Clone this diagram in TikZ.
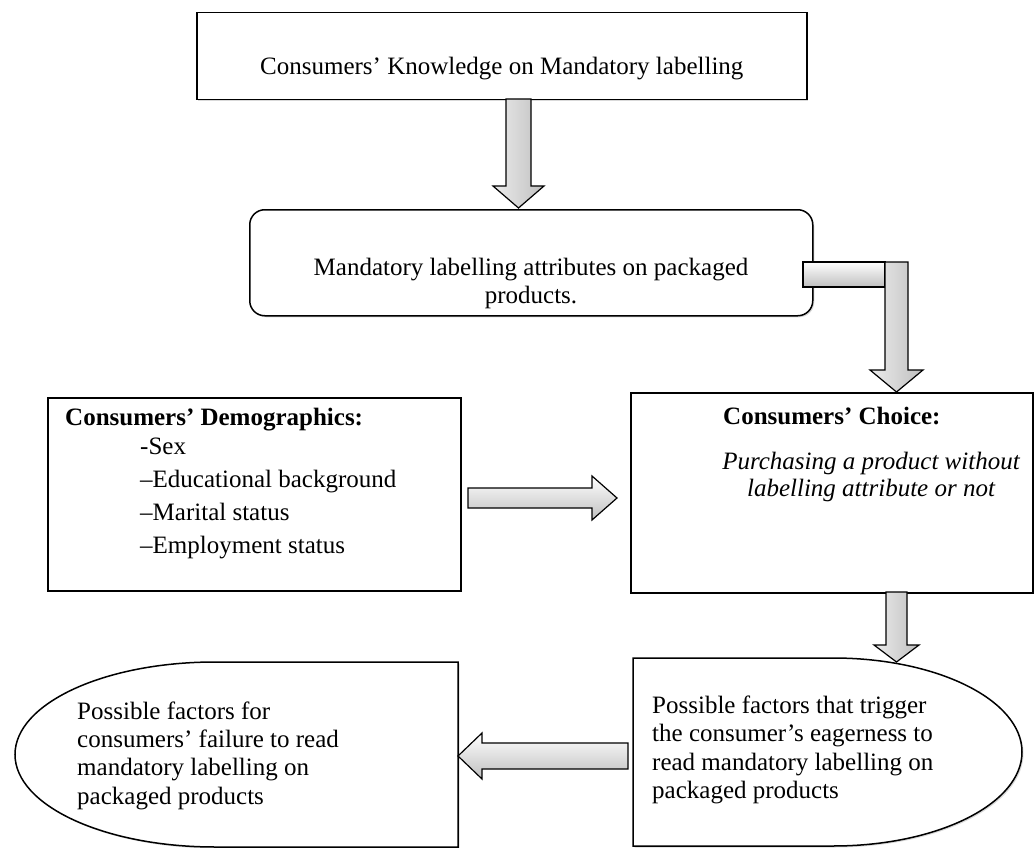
\documentclass[tikz,border=0pt]{standalone}
\usepackage{fontspec}
\setmainfont{Liberation Serif}
\usetikzlibrary{calc,shadows}
\newcommand\vblock[6]{\path[#1] ($(#2)+(-#4,0)$) -- ($(#2)+(#4,0)$) -- ($(#3)+(#4,-#6)$) -- ($(#3)+(#5,-#6)$) -- (#3) -- ($(#3)+(-#5,-#6)$) -- ($(#3)+(-#4,-#6)$) -- cycle;}
\newcommand\hblock[6]{\path[#1] ($(#2)+(0,-#4)$) -- ($(#3)+(#6,-#4)$) -- ($(#3)+(#6,-#5)$) -- (#3) -- ($(#3)+(#6,#5)$) -- ($(#3)+(#6,#4)$) -- ($(#2)+(0,#4)$) -- cycle;}
\begin{document}
\begin{tikzpicture}[x=1pt,y=-1pt,
 box/.style={draw=black,line width=1.5pt,fill=white,drop shadow={shadow xshift=1.5pt,shadow yshift=-1.5pt,opacity=0.3,fill=gray}},
 txt/.style={inner sep=0pt,font=\fontsize{25}{28.3}\selectfont},
 txtb/.style={inner sep=0pt,font=\fontsize{25}{28.3}\selectfont\bfseries},
 txti/.style={inner sep=0pt,font=\fontsize{25}{27}\selectfont\itshape},
 varrow/.style={draw=black,line width=1.2pt,left color=gray!15,middle color=white,right color=gray!50},
 harrow/.style={draw=black,line width=1.2pt,top color=white,middle color=gray!10,bottom color=gray!50}]
\useasboundingbox (0,0) rectangle (1034,848);
% boxes
\node[box,minimum width=610pt,minimum height=87pt,anchor=north west,inner sep=0pt] (know) at (196,12) {};
\node[box,rounded corners=15pt,minimum width=563pt,minimum height=106pt,anchor=north west,inner sep=0pt] (attr) at (249,209) {};
\node[box,minimum width=413pt,minimum height=193pt,anchor=north west,inner sep=0pt] (demo) at (47,397) {};
\node[box,minimum width=402pt,minimum height=200pt,anchor=north west,inner sep=0pt] (choice) at (630,392) {};
\path[box] (458,662) -- (215,662) .. controls (104.5,662) and (15,703.4) .. (15,754.5) .. controls (15,805.6) and (104.5,847) .. (215,847) -- (458,847) -- cycle;
\path[box] (633,658) -- (833,658) .. controls (937.4,658) and (1022,700.1) .. (1022,752) .. controls (1022,803.9) and (937.4,846) .. (833,846) -- (633,846) -- cycle;
% texts
\node[txt,anchor=base west] (tknow) at (260,75) {Consumers’ Knowledge on Mandatory labelling};
\node[txt,align=center] (tattr) at (531,283.5) {Mandatory labelling attributes on packaged\\products.};
\node[txtb,anchor=base west] (tdemo) at (65,425) {Consumers’ Demographics:};
\node[txt,anchor=base west] (d1) at (140,454) {-Sex};
\node[txt,anchor=base west] (d2) at (140,487) {–Educational background};
\node[txt,anchor=base west] (d3) at (140,520) {–Marital status};
\node[txt,anchor=base west] (d4) at (140,553) {–Employment status};
\node[txtb,anchor=base west] (tchoice) at (723,424) {Consumers’ Choice:};
\node[txti,align=center] (tpurch) at (871,476.5) {Purchasing a product without\\labelling attribute or not};
\node[txt,align=left,anchor=west] (tfail) at (77,755.5) {Possible factors for\\consumers’ failure to read\\mandatory labelling on\\packaged products};
\node[txt,align=left,anchor=west] (ttrig) at (652,750) {Possible factors that trigger\\the consumer’s eagerness to\\read mandatory labelling on\\packaged products};
% arrows
\coordinate (a1s) at (518.5,99);
\coordinate (a1t) at (518.5,208);
\vblock{varrow}{a1s}{a1t}{12.5}{25.5}{22}
\coordinate (e0) at (803,262);
\coordinate (e1) at (885,287);
\path[harrow] (e0) rectangle (e1);
\coordinate (e2) at (896.5,262);
\coordinate (e3) at (896.5,392);
\vblock{varrow}{e2}{e3}{11.5}{26.5}{22}
\coordinate (m0) at (468,498);
\coordinate (m1) at (617,498);
\hblock{harrow}{m0}{m1}{10}{22}{-25}
\coordinate (b0) at (896.5,592);
\coordinate (b1) at (896.5,662);
\vblock{varrow}{b0}{b1}{10.5}{22.5}{17}
\coordinate (l0) at (628,756);
\coordinate (l1) at (458,756);
\hblock{harrow}{l0}{l1}{13}{23}{24}
\end{tikzpicture}
\end{document}
